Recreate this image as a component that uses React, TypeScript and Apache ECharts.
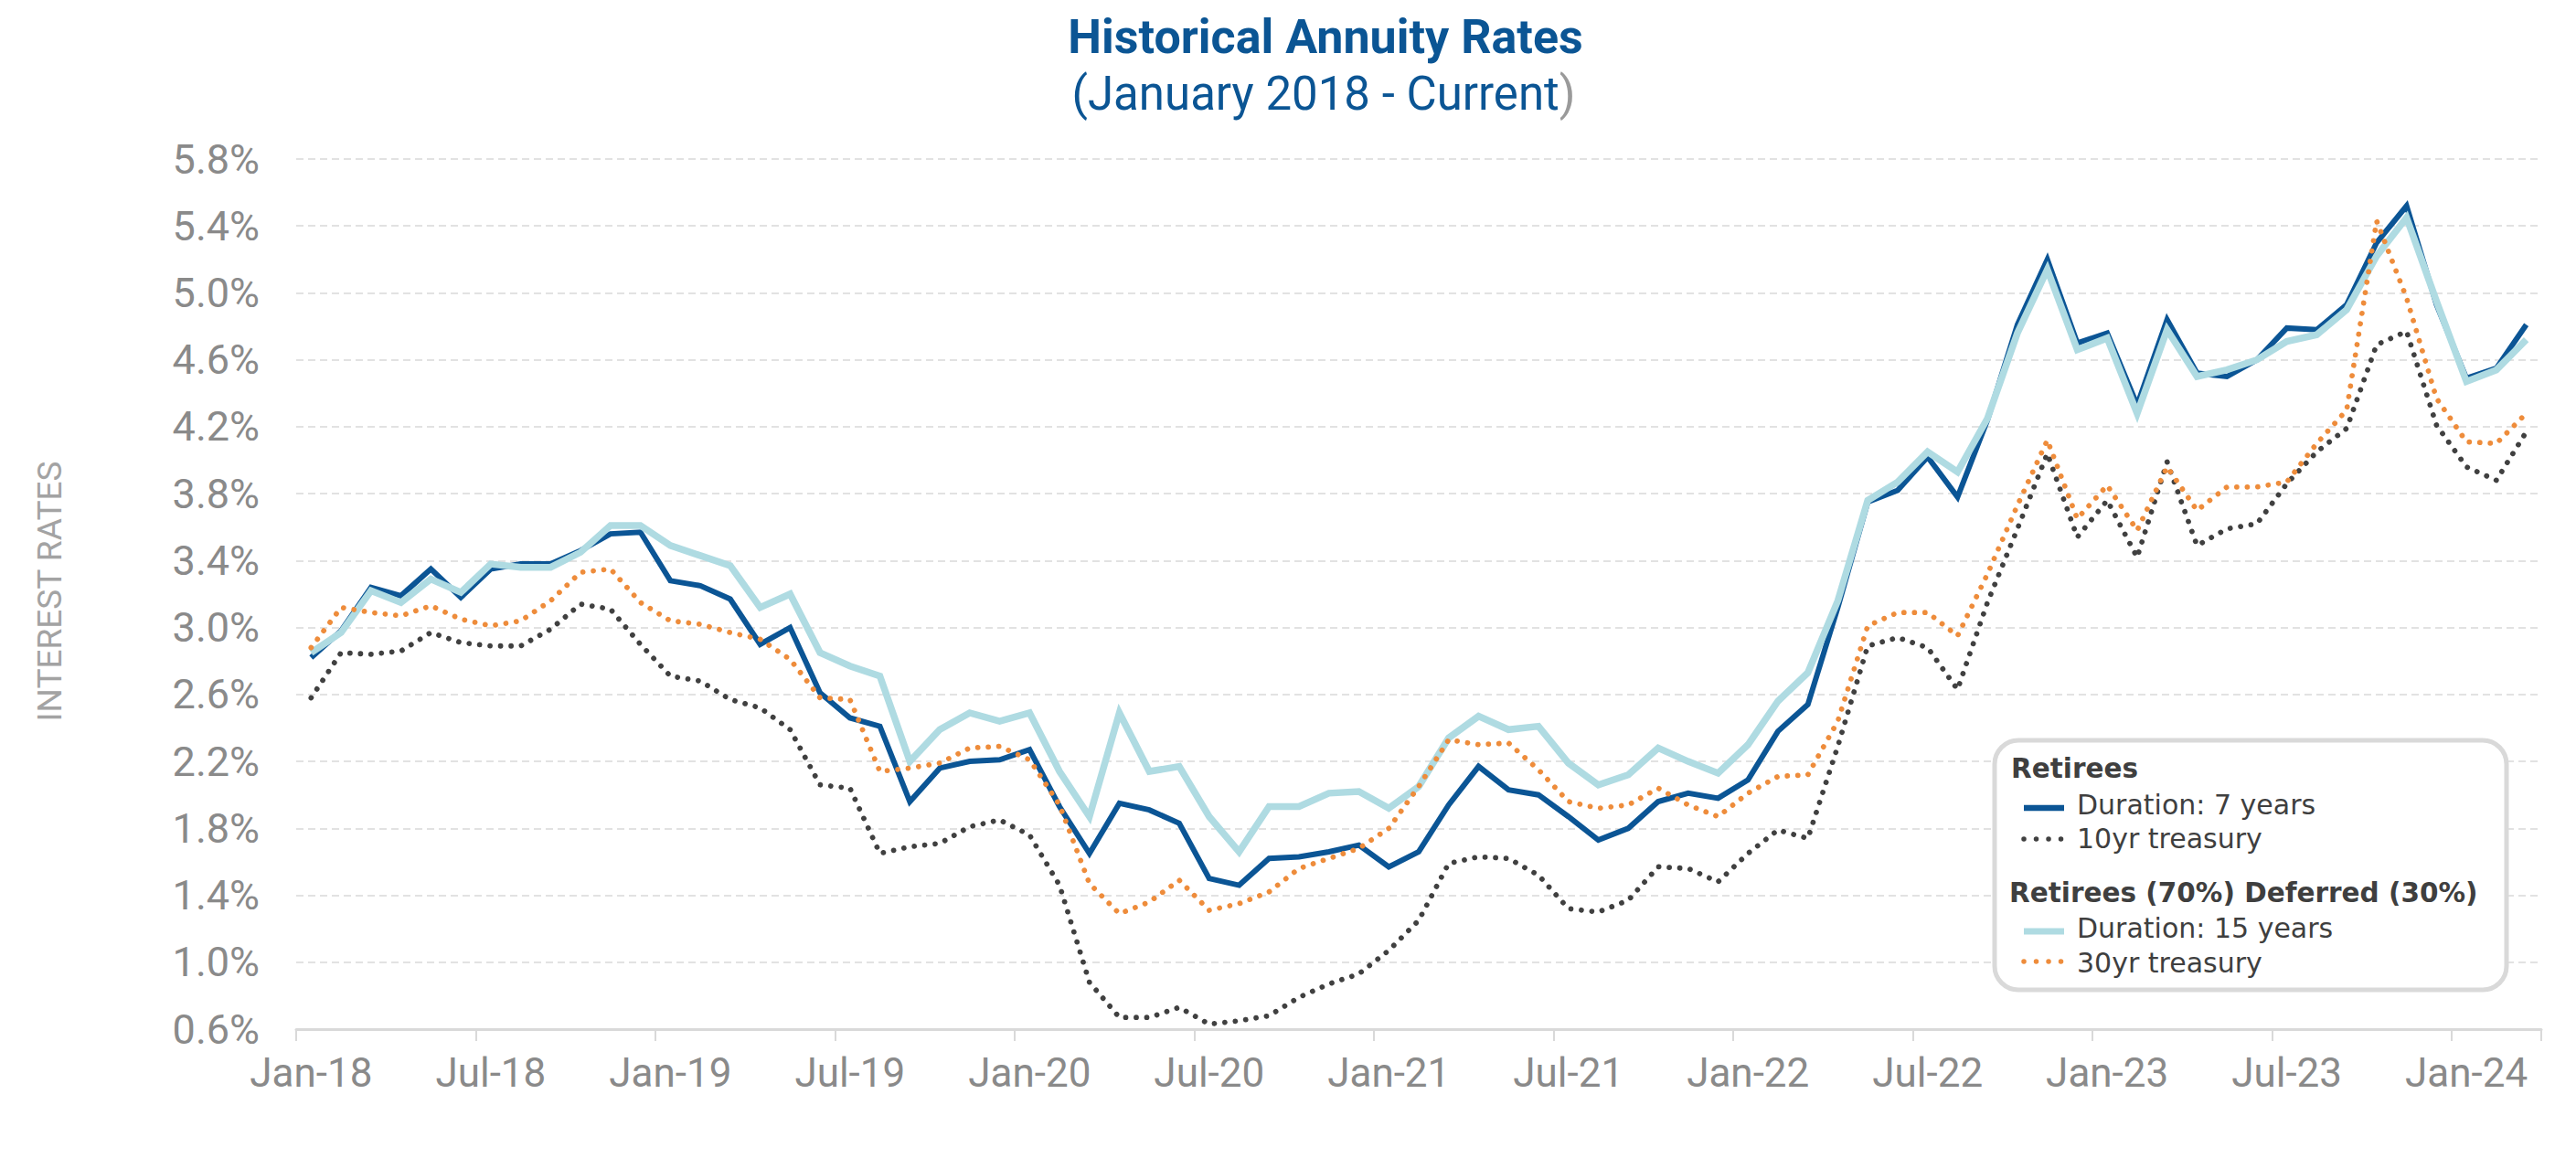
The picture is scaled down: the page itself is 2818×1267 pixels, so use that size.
import React, { useEffect, useRef } from "react";
import * as echarts from "echarts";

const months = [
  "Jan-18", "Feb-18", "Mar-18", "Apr-18", "May-18", "Jun-18", "Jul-18", "Aug-18", "Sep-18", "Oct-18", "Nov-18", "Dec-18",
  "Jan-19", "Feb-19", "Mar-19", "Apr-19", "May-19", "Jun-19", "Jul-19", "Aug-19", "Sep-19", "Oct-19", "Nov-19", "Dec-19",
  "Jan-20", "Feb-20", "Mar-20", "Apr-20", "May-20", "Jun-20", "Jul-20", "Aug-20", "Sep-20", "Oct-20", "Nov-20", "Dec-20",
  "Jan-21", "Feb-21", "Mar-21", "Apr-21", "May-21", "Jun-21", "Jul-21", "Aug-21", "Sep-21", "Oct-21", "Nov-21", "Dec-21",
  "Jan-22", "Feb-22", "Mar-22", "Apr-22", "May-22", "Jun-22", "Jul-22", "Aug-22", "Sep-22", "Oct-22", "Nov-22", "Dec-22",
  "Jan-23", "Feb-23", "Mar-23", "Apr-23", "May-23", "Jun-23", "Jul-23", "Aug-23", "Sep-23", "Oct-23", "Nov-23", "Dec-23",
  "Jan-24", "Feb-24", "Mar-24",
];

// Retirees – Duration: 7 years
const duration7 = [
  2.82, 2.98, 3.24, 3.19, 3.35, 3.18, 3.35, 3.38, 3.38, 3.46,
  3.56, 3.57, 3.28, 3.25, 3.17, 2.90, 3.00, 2.61, 2.46, 2.41,
  1.96, 2.16, 2.20, 2.21, 2.27, 1.93, 1.65, 1.95, 1.91, 1.83,
  1.50, 1.46, 1.62, 1.63, 1.66, 1.70, 1.57, 1.66, 1.94, 2.17,
  2.03, 2.00, 1.87, 1.73, 1.80, 1.96, 2.01, 1.98, 2.09, 2.38,
  2.54, 3.12, 3.75, 3.82, 4.02, 3.78, 4.24, 4.81, 5.20, 4.70,
  4.76, 4.33, 4.84, 4.52, 4.50, 4.60, 4.79, 4.78, 4.93, 5.30,
  5.52, 4.93, 4.49, 4.55, 4.81,
];

// Retirees – 10yr treasury
const treasury10 = [
  2.58, 2.85, 2.84, 2.86, 2.97, 2.91, 2.89, 2.89, 2.99, 3.14,
  3.11, 2.90, 2.71, 2.68, 2.57, 2.52, 2.39, 2.06, 2.04, 1.65,
  1.69, 1.71, 1.81, 1.85, 1.76, 1.46, 0.88, 0.67, 0.67, 0.73,
  0.63, 0.65, 0.68, 0.79, 0.87, 0.93, 1.07, 1.25, 1.59, 1.63,
  1.62, 1.52, 1.32, 1.30, 1.37, 1.57, 1.56, 1.48, 1.65, 1.79,
  1.74, 2.29, 2.89, 2.94, 2.88, 2.63, 3.15, 3.59, 4.04, 3.54,
  3.76, 3.42, 3.99, 3.49, 3.59, 3.62, 3.86, 4.05, 4.19, 4.69,
  4.77, 4.21, 3.96, 3.88, 4.17,
];

// Retirees (70%) Deferred (30%) – Duration: 15 years
const duration15 = [
  2.85, 2.97, 3.22, 3.15, 3.29, 3.21, 3.38, 3.36, 3.36, 3.45,
  3.61, 3.61, 3.49, 3.43, 3.37, 3.12, 3.20, 2.85, 2.77, 2.71,
  2.20, 2.39, 2.49, 2.44, 2.49, 2.14, 1.87, 2.49, 2.14, 2.17,
  1.87, 1.66, 1.93, 1.93, 2.01, 2.02, 1.92, 2.05, 2.34, 2.47,
  2.39, 2.41, 2.19, 2.06, 2.12, 2.28, 2.20, 2.13, 2.30, 2.56,
  2.73, 3.16, 3.76, 3.87, 4.05, 3.93, 4.25, 4.76, 5.14, 4.66,
  4.73, 4.28, 4.78, 4.50, 4.54, 4.60, 4.71, 4.75, 4.90, 5.22,
  5.45, 4.95, 4.47, 4.54, 4.72,
];

// Retirees (70%) Deferred (30%) – 30yr treasury
const treasury30 = [
  2.88, 3.12, 3.09, 3.07, 3.13, 3.05, 3.01, 3.04, 3.16, 3.33,
  3.35, 3.15, 3.04, 3.02, 2.97, 2.93, 2.81, 2.58, 2.57, 2.14,
  2.16, 2.19, 2.28, 2.29, 2.21, 1.94, 1.47, 1.29, 1.36, 1.49,
  1.31, 1.35, 1.42, 1.56, 1.62, 1.68, 1.80, 2.05, 2.33, 2.30,
  2.31, 2.15, 1.96, 1.92, 1.94, 2.04, 1.94, 1.87, 2.01, 2.11,
  2.12, 2.44, 3.01, 3.09, 3.09, 2.95, 3.32, 3.73, 4.12, 3.65,
  3.85, 3.58, 3.96, 3.70, 3.84, 3.84, 3.87, 4.10, 4.30, 5.43,
  4.97, 4.37, 4.11, 4.10, 4.28,
];

const yTicks = [0.6, 1.0, 1.4, 1.8, 2.2, 2.6, 3.0, 3.4, 3.8, 4.2, 4.6, 5.0, 5.4, 5.8];

const titleText = "Historical Annuity Rates";
const subtitleText = "(January 2018 - Current";
const yAxisTitle = "INTEREST RATES";
const legendGroup1 = "Retirees";
const legendGroup2 = "Retirees (70%) Deferred (30%)";
const legendNames = ["Duration: 7 years", "10yr treasury", "Duration: 15 years", "30yr treasury"];

const BLUE = "#0b5595";
const LIGHT = "#afdbe2";
const DARK = "#404040";
const ORANGE = "#ee8c3b";
const AXIS_GRAY = "#8a8a8a";
const TITLE_BLUE = "#0b5594";

export default function App() {
  const ref = useRef<HTMLDivElement>(null);

  useEffect(() => {
    const chart = echarts.init(ref.current!, undefined, { renderer: "svg" });

    const dotStyle = (color: string) => ({
      color,
      width: 5.8,
      type: [0.01, 11.5],
      cap: "round",
    });

    const legendText = (text: string, x: number, y: number, bold: boolean) => ({
      type: "text",
      z: 101,
      x,
      y,
      style: {
        text,
        fill: "#3f3f3f",
        font: bold ? 'bold 29.5px "DejaVu Sans"' : '30px "DejaVu Sans"',
        textAlign: "left",
        textVerticalAlign: "middle",
        align: "left",
        verticalAlign: "middle",
      },
    });

    const swatch = (y: number, color: string, width: number, dotted: boolean) => ({
      type: "line",
      z: 101,
      shape: { x1: 2214, y1: y, x2: 2258, y2: y },
      style: {
        stroke: color,
        lineWidth: width,
        lineDash: dotted ? [0.01, 13.5] : null,
        lineCap: dotted ? "round" : "butt",
      },
    });

    chart.setOption({
      animation: false,
      backgroundColor: "#ffffff",
      grid: { left: 324, right: 38, top: 174, bottom: 141, containLabel: false },
      xAxis: {
        type: "category",
        data: months,
        boundaryGap: true,
        axisLine: { show: true, lineStyle: { color: "#d9d9d9", width: 3 } },
        axisTick: { show: true, interval: 5, length: 13, lineStyle: { color: "#d9d9d9", width: 2 } },
        axisLabel: {
          interval: 5,
          margin: 26,
          color: AXIS_GRAY,
          fontFamily: "Roboto",
          fontSize: 44,
        },
        splitLine: { show: false },
      },
      yAxis: {
        type: "value",
        min: 0.6,
        max: 5.8,
        axisLine: { show: false },
        axisTick: { show: false, customValues: yTicks },
        axisLabel: {
          customValues: yTicks,
          margin: 40,
          color: AXIS_GRAY,
          fontFamily: "Roboto",
          fontSize: 45,
          formatter: (v: number) => v.toFixed(1) + "%",
        },
        splitLine: {
          show: true,
          lineStyle: { color: "#e2e2e2", width: 2, type: [8, 5] },
        },
      },
      series: [
        {
          name: legendNames[0],
          type: "line",
          data: duration7,
          symbol: "none",
          lineStyle: { color: BLUE, width: 6, join: "miter" },
          z: 3,
        },
        {
          name: legendNames[1],
          type: "line",
          data: treasury10,
          symbol: "none",
          lineStyle: dotStyle(DARK),
          z: 4,
        },
        {
          name: legendNames[2],
          type: "line",
          data: duration15,
          symbol: "none",
          lineStyle: { color: LIGHT, width: 7.5, join: "miter" },
          z: 5,
        },
        {
          name: legendNames[3],
          type: "line",
          data: treasury30,
          symbol: "none",
          lineStyle: dotStyle(ORANGE),
          z: 6,
        },
      ],
      graphic: [
        {
          type: "text",
          x: 1450,
          y: 40,
          style: {
            text: titleText,
            fill: TITLE_BLUE,
            font: "bold 52px Roboto",
            textAlign: "center",
            textVerticalAlign: "middle",
            align: "center",
            verticalAlign: "middle",
          },
        },
        {
          type: "text",
          x: 1448,
          y: 102,
          style: {
            text: `{a|${subtitleText}}{b|)}`,
            font: "51px Roboto",
            textAlign: "center",
            textVerticalAlign: "middle",
            align: "center",
            verticalAlign: "middle",
            rich: {
              a: { fill: TITLE_BLUE, font: "51px Roboto" },
              b: { fill: "#9a9a9a", font: "51px Roboto" },
            },
          },
        },
        {
          type: "text",
          x: 54,
          y: 647,
          rotation: Math.PI / 2,
          style: {
            text: yAxisTitle,
            fill: "#a3a3a3",
            font: '37px "Liberation Sans Narrow", Roboto',
            textAlign: "center",
            textVerticalAlign: "middle",
            align: "center",
            verticalAlign: "middle",
          },
        },
        {
          type: "rect",
          z: 100,
          shape: { x: 2182, y: 810, width: 560, height: 273, r: 26 },
          style: { fill: "#ffffff", stroke: "#d9d9d9", lineWidth: 5 },
        },
        legendText(legendGroup1, 2200, 841, true),
        swatch(884, BLUE, 6.5, false),
        legendText(legendNames[0], 2272, 880, false),
        swatch(918, DARK, 5.5, true),
        legendText(legendNames[1], 2272, 917, false),
        legendText(legendGroup2, 2198, 977, true),
        swatch(1019, LIGHT, 7, false),
        legendText(legendNames[2], 2272, 1015, false),
        swatch(1052, ORANGE, 5.5, true),
        legendText(legendNames[3], 2272, 1053, false),
      ],
    });

    return () => chart.dispose();
  }, []);

  return (
    <div
      ref={ref}
      style={{ position: "fixed", left: 0, top: 0, width: 2818, height: 1267, background: "#fff" }}
    />
  );
}
